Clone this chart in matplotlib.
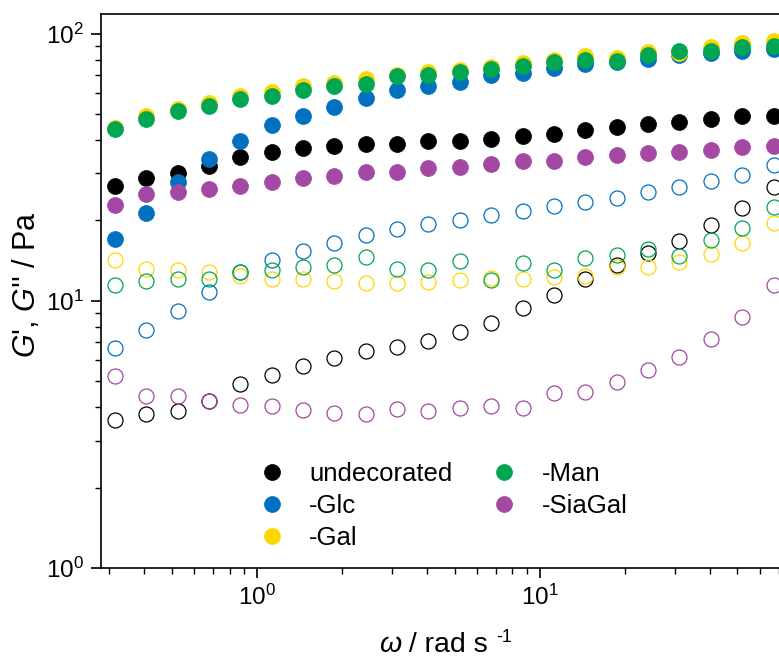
import matplotlib
matplotlib.use("Agg")
import matplotlib.pyplot as plt
from matplotlib.ticker import LogLocator, NullFormatter
from matplotlib.lines import Line2D

plt.rcParams['font.family'] = ['Liberation Sans', 'DejaVu Sans']
plt.rcParams['mathtext.fontset'] = 'custom'
plt.rcParams['mathtext.rm'] = 'Liberation Sans'
plt.rcParams['mathtext.it'] = 'Liberation Sans:italic'
plt.rcParams['mathtext.bf'] = 'Liberation Sans:bold'

# angular frequency (rad/s)
omega = [0.314, 0.405, 0.524, 0.676, 0.873, 1.127, 1.455, 1.879, 2.426, 3.13, 4.04,
         5.22, 6.74, 8.71, 11.24, 14.5, 18.7, 24.2, 31.2, 40.3, 52.1, 67.2]

labels = ["undecorated", "-Glc", "-Gal", "-Man", "-SiaGal"]
colors = ["#000000", "#0070C0", "#FFD600", "#00A651", "#A349A4"]

# storage modulus G' (Pa)
g1_undecorated = [27.0, 28.9, 30.2, 32.1, 34.4, 36.1, 37.4, 38.1, 38.5, 38.8, 39.5,
                  39.5, 40.2, 41.4, 42.1, 43.7, 44.7, 45.9, 46.9, 47.9, 49.2, 49.2]
g1_glc = [17.1, 21.3, 27.9, 34.1, 39.6, 45.5, 49.2, 53.1, 57.4, 61.3, 63.7,
          65.9, 69.8, 71.3, 74.4, 77.0, 78.1, 80.6, 82.9, 84.7, 86.4, 87.6]
g1_gal = [44.3, 49.0, 52.4, 54.8, 58.2, 60.3, 63.5, 65.4, 67.7, 70.2, 71.6,
          73.3, 74.8, 77.7, 79.9, 82.2, 81.1, 85.4, 84.5, 88.9, 92.3, 94.1]
g1_man = [44.0, 48.0, 51.2, 53.7, 57.1, 58.6, 61.8, 63.7, 64.8, 69.2, 70.0,
          71.9, 73.8, 75.7, 78.3, 79.7, 79.2, 82.9, 86.4, 86.1, 88.9, 89.6]
g1_siagal = [22.8, 25.2, 25.6, 26.3, 27.0, 27.8, 28.8, 29.4, 30.3, 30.4, 31.5,
             31.8, 32.6, 33.4, 33.4, 34.4, 35.2, 35.8, 36.1, 36.8, 37.8, 38.1]

# loss modulus G'' (Pa)
g2_undecorated = [3.57, 3.77, 3.88, 4.20, 4.88, 5.28, 5.71, 6.10, 6.50, 6.69, 7.08,
                  7.63, 8.29, 9.44, 10.5, 12.1, 13.6, 15.1, 16.8, 19.2, 22.3, 26.6]
g2_glc = [6.65, 7.77, 9.15, 10.8, 12.8, 14.2, 15.4, 16.4, 17.6, 18.6, 19.4,
          20.1, 20.9, 21.6, 22.6, 23.4, 24.3, 25.5, 26.7, 28.2, 29.6, 32.3]
g2_gal = [14.2, 13.2, 13.1, 12.8, 12.4, 12.1, 12.1, 11.9, 11.7, 11.7, 11.8,
          12.0, 12.2, 12.1, 12.3, 12.4, 13.4, 13.4, 14.0, 15.0, 16.5, 19.5]
g2_man = [11.5, 11.9, 12.1, 12.1, 12.8, 13.0, 13.4, 13.6, 14.6, 13.2, 13.0,
          14.1, 12.0, 13.8, 13.1, 14.5, 14.9, 15.6, 14.7, 16.9, 18.7, 22.4]
g2_siagal = [5.24, 4.42, 4.40, 4.20, 4.08, 4.05, 3.91, 3.81, 3.77, 3.93, 3.87,
             3.98, 4.05, 3.98, 4.51, 4.57, 4.96, 5.51, 6.15, 7.20, 8.69, 11.5]

g1_all = [g1_undecorated, g1_glc, g1_gal, g1_man, g1_siagal]
g2_all = [g2_undecorated, g2_glc, g2_gal, g2_man, g2_siagal]

W, H = 779, 656
fig = plt.figure(figsize=(W / 100, H / 100), dpi=100)
ax_w = 694.3
ax = fig.add_axes([100.7 / W, (H - 568) / H, ax_w / W, (568 - 13.5) / H])
ax.set_xscale('log')
ax.set_yscale('log')

for g2, c in zip(g2_all, colors):
    ax.plot(omega, g2, linestyle='none', marker='o', markersize=10.8,
            markerfacecolor='none', markeredgecolor=c, markeredgewidth=0.9,
            clip_on=True)
for g1, c in zip(g1_all, colors):
    ax.plot(omega, g1, linestyle='none', marker='o', markersize=11.5,
            markerfacecolor=c, markeredgecolor=c, markeredgewidth=0.5,
            clip_on=True)

ax.set_xlim(0.28, 80)
ax.set_ylim(1, 119)

for s in ax.spines.values():
    s.set_linewidth(1.2)
ax.tick_params(which='major', direction='out', length=7, width=1.2,
               labelsize=17.5, pad=5)
ax.tick_params(which='minor', direction='out', length=4, width=1.0)
ax.xaxis.set_minor_locator(LogLocator(base=10, subs=range(2, 10), numticks=20))
ax.yaxis.set_minor_locator(LogLocator(base=10, subs=range(2, 10), numticks=20))
ax.xaxis.set_minor_formatter(NullFormatter())
ax.yaxis.set_minor_formatter(NullFormatter())

handles = [Line2D([], [], linestyle='none', marker='o', markersize=11.5,
                  markerfacecolor=c, markeredgecolor=c, markeredgewidth=0.5)
           for c in colors]
fig.legend(handles, labels, loc='upper left',
           bbox_to_anchor=(258.9 / W, 1 - 462.0 / H),
           ncol=2, frameon=False, fontsize=18.5, handlelength=1.0,
           handletextpad=0.95, columnspacing=1.52, labelspacing=0.31,
           borderpad=0, borderaxespad=0)

# x label built from pieces: italic omega, regular text, raised "-1"
renderer = fig.canvas.get_renderer()
base_y = (H - 651.5) / H
x0 = 379.0
t1 = fig.text(x0 / W, base_y, "ω", fontsize=20.5, style='italic',
              ha='left', va='baseline')
w1 = t1.get_window_extent(renderer).width
t2 = fig.text((x0 + w1) / W, base_y, " / rad s", fontsize=20.5,
              ha='left', va='baseline')
w2 = t2.get_window_extent(renderer).width
fig.text((x0 + w1 + w2 + 8) / W, base_y + 9.5 / H, "-1", fontsize=13,
         ha='left', va='baseline')

fig.text(27 / W, 1 - 285 / H, r"$\mathit{G}$', $\mathit{G}$'' / Pa", fontsize=22,
         rotation=90, ha='center', va='center')

fig.savefig("out.png", dpi=100)
